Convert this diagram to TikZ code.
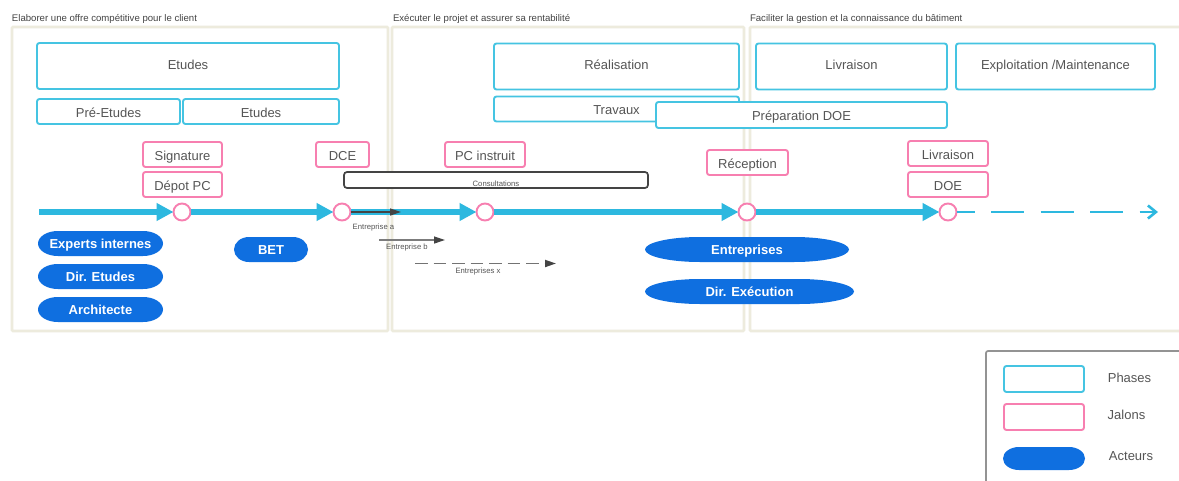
\documentclass[tikz,border=0pt]{standalone}
\usepackage{fontspec}
\setmainfont{Liberation Sans}
\usetikzlibrary{arrows.meta}
\definecolor{panelc}{HTML}{EDEBDD}
\definecolor{phasec}{HTML}{45C4E2}
\definecolor{jalonc}{HTML}{F77FB0}
\definecolor{axisc}{HTML}{2DB8DF}
\definecolor{actorc}{HTML}{0F6FE0}
\definecolor{textc}{HTML}{555555}
\definecolor{darkc}{HTML}{444444}
\tikzset{
  every node/.style={inner sep=0pt,outer sep=0pt,text=textc,align=center},
  panel/.style={draw=panelc,line width=2.6pt,fill=white,rounded corners=1pt},
  boxtext/.style={font=\fontsize{13}{15}\selectfont,text height=12pt,text depth=0.6pt},
  phase/.style={draw=phasec,line width=1.9pt,rounded corners=2.5pt,fill=white,boxtext},
  jalon/.style={draw=jalonc,line width=1.9pt,rounded corners=2.5pt,fill=white,boxtext},
  acteur/.style={text=white,font=\bfseries\fontsize{13}{15}\selectfont,text height=10pt,text depth=0.6pt},
  mile/.style={circle,draw=jalonc,line width=1.9pt,fill=white,minimum size=17pt},
  axisarrow/.style={draw=axisc,line width=5.5pt,-{Triangle[length=17pt,width=17pt]}},
  title/.style={anchor=west,font=\fontsize{9.6}{11}\selectfont,text=darkc},
  small/.style={font=\fontsize{7.7}{9}\selectfont,text=textc},
  blackarrow/.style={line width=1.2pt,-{Triangle[length=11pt,width=7pt,color=darkc]},draw=darkc},
  legendlabel/.style={font=\fontsize{13}{15}\selectfont}
}
% name, x1, x2, y1, y2, rx, text: a capsule with elliptical ends
\newcommand{\capsule}[7]{%
  \fill[actorc] ({#2+#6},#4) -- ({#3-#6},#4)
    .. controls ({#3-0.4477*#6},#4) and (#3,{#4+0.2239*(#5-#4)}) .. (#3,{(#4+#5)/2})
    .. controls (#3,{#5-0.2239*(#5-#4)}) and ({#3-0.4477*#6},#5) .. ({#3-#6},#5)
    -- ({#2+#6},#5)
    .. controls ({#2+0.4477*#6},#5) and (#2,{#5-0.2239*(#5-#4)}) .. (#2,{(#4+#5)/2})
    .. controls (#2,{#4+0.2239*(#5-#4)}) and ({#2+0.4477*#6},#4) .. ({#2+#6},#4) -- cycle;
  \node[acteur] (#1) at ({(#2+#3)/2},{(#4+#5)/2}) {#7};
}
\begin{document}
\begin{tikzpicture}[x=1pt,y=-1pt]
\clip (0,0) rectangle (1179,480);
\fill[white] (0,0) rectangle (1179,480);
% panels
\node[title] (t1) at (12,19) {Elaborer une offre compétitive pour le client};
\node[title] (t2) at (393,19) {Exécuter le projet et assurer sa rentabilité};
\node[title] (t3) at (750,19) {Faciliter la gestion et la connaissance du bâtiment};
\draw[panel] (12,27) rectangle (388,331);
\draw[panel] (392,27) rectangle (744,331);
\draw[panel] (750,27) rectangle (1195,331);
% phases
\node[phase,minimum width=302pt,minimum height=46pt] (p1) at (188,66) {};
\node[boxtext] (p1t) at (188,63.5) {Etudes};
\node[phase,minimum width=143pt,minimum height=25pt] (p2) at (108.5,111.5) {Pré-Etudes};
\node[phase,minimum width=156pt,minimum height=25pt] (p3) at (261,111.5) {Etudes};
\node[phase,minimum width=245pt,minimum height=46pt] (p4) at (616.5,66.5) {};
\node[boxtext] (p4t) at (616.5,63.5) {Réalisation};
\node[phase,minimum width=245pt,minimum height=25pt] (p5) at (616.5,109) {Travaux};
\node[phase,minimum width=291pt,minimum height=26pt] (p6) at (801.5,115) {Préparation DOE};
\node[phase,minimum width=191pt,minimum height=46pt] (p7) at (851.5,66.5) {};
\node[boxtext] (p7t) at (851.5,63.5) {Livraison};
\node[phase,minimum width=199pt,minimum height=46pt] (p8) at (1055.5,66.5) {};
\node[boxtext] (p8t) at (1055.5,63.5) {Exploitation /Maintenance};
% jalons
\node[jalon,minimum width=79pt,minimum height=25pt] (j1) at (182.5,154.5) {Signature};
\node[jalon,minimum width=79pt,minimum height=25pt] (j2) at (182.5,184.5) {Dépot PC};
\node[jalon,minimum width=53pt,minimum height=25pt] (j3) at (342.5,154.5) {DCE};
\node[jalon,minimum width=80pt,minimum height=25pt] (j4) at (485,154.5) {PC instruit};
\node[jalon,minimum width=81pt,minimum height=25pt] (j5) at (747.5,162.5) {Réception};
\node[jalon,minimum width=80pt,minimum height=25pt] (j6) at (948,153.5) {Livraison};
\node[jalon,minimum width=80pt,minimum height=25pt] (j7) at (948,184.5) {DOE};
% consultations
\node[draw=darkc,line width=1.7pt,rounded corners=3pt,fill=white,minimum width=304pt,minimum height=16pt] (c) at (496,180) {};
\node[small] (ct) at (496,183.3) {Consultations};
% milestones
\node[mile] (m1) at (182,212) {};
\node[mile] (m2) at (342,212) {};
\node[mile] (m3) at (485,212) {};
\node[mile] (m4) at (747,212) {};
\node[mile] (m5) at (948,212) {};
\coordinate (start) at (39,212);
\coordinate (end) at (1158,212);
\coordinate (barb) at (1141,212);
\draw[axisarrow] (start) -- (m1);
\draw[axisarrow] (m1) -- (m2);
\draw[axisarrow] (m2) -- (m3);
\draw[axisarrow] (m3) -- (m4);
\draw[axisarrow] (m4) -- (m5);
\draw[draw=axisc,line width=2.8pt,dash pattern=on 33pt off 16.5pt,dash phase=15pt] (m5) -- (barb);
\draw[draw=axisc,line width=2.6pt,-{Straight Barb[length=8pt,width=13pt]}] (barb) -- (end);
% contractor arrows
\coordinate (ae) at (401,212);
\coordinate (bs) at (379,240);
\coordinate (be) at (445,240);
\coordinate (xs) at (415,263.5);
\coordinate (xe) at (556,263.5);
\draw[blackarrow] (m2) -- (ae);
\draw[blackarrow,draw=darkc!70] (bs) -- (be);
\draw[blackarrow,draw=black!55,line width=1.8pt,dash pattern=on 12.5pt off 6pt] (xs) -- (xe);
\node[small] (la) at (373.5,228) {Entreprise a};
\node[small] (lb) at (407,248) {Entreprise b};
\node[small] (lx) at (478,272) {Entreprises x};
% acteurs
\capsule{a1}{38}{163}{231}{256}{20}{Experts internes}
\capsule{a2}{38}{163}{264}{289}{20}{Dir. Etudes}
\capsule{a3}{38}{163}{297}{322}{20}{Architecte}
\capsule{a4}{234}{308}{237}{262}{15}{BET}
\capsule{a5}{645}{849}{237}{262}{55}{Entreprises}
\capsule{a6}{645}{854}{279}{304}{55}{Dir. Exécution}
% legend
\draw[draw=gray!85,line width=1.7pt,rounded corners=2pt,fill=white] (986,351) rectangle (1200,500);
\node[phase,minimum width=80pt,minimum height=26pt] (l1) at (1044,379) {};
\node[jalon,minimum width=80pt,minimum height=26pt] (l2) at (1044,417) {};
\capsule{l3}{1003}{1085}{447}{470}{16}{}
\node[legendlabel] (l1t) at (1129.5,377.5) {Phases};
\node[legendlabel] (l2t) at (1126.5,414.5) {Jalons};
\node[legendlabel] (l3t) at (1131,456.5) {Acteurs};
\end{tikzpicture}
\end{document}
